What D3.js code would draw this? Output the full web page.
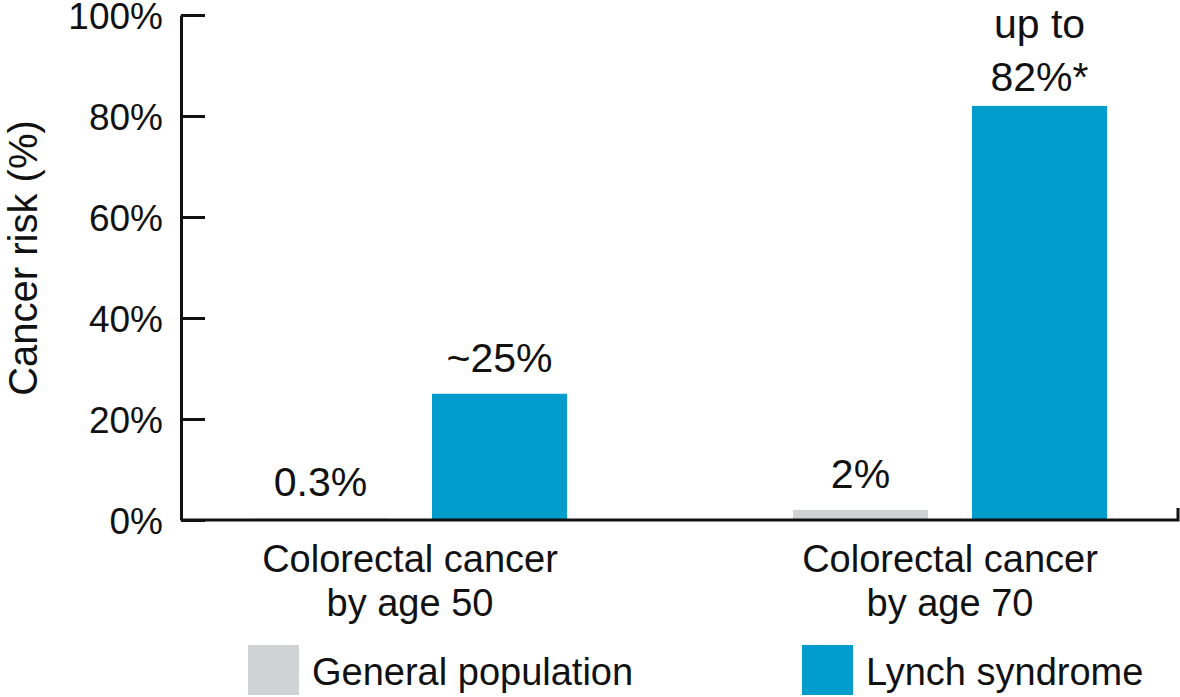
<!DOCTYPE html>
<html>
<head>
<meta charset="utf-8">
<script src="https://cdn.jsdelivr.net/npm/d3@7"></script>
<style>
  body { margin: 0; background: #fff; }
  text { font-family: "Liberation Sans", Arial, Helvetica, sans-serif; fill: #111; }
</style>
</head>
<body>
<script>
var categories = [["Colorectal cancer", "by age 50"], ["Colorectal cancer", "by age 70"]];
var series = ["General population", "Lynch syndrome"];
var generalValues = [0.3, 2];
var lynchValues = [25, 82];
var valueLabels = [[["0.3%"], ["~25%"]], [["2%"], ["up to", "82%*"]]];
var yTicks = [0, 20, 40, 60, 80, 100];
var colors = ["#d0d2d4", "#009dcc"];

function init() {
    var w = 1180;
    var h = 697;

    var svg = d3.select("body").append("svg").attr("width", w).attr("height", h);

    var y = d3.scaleLinear().domain([0, 100]).range([520, 15]);

    var x0 = d3.scaleBand()
        .domain(d3.range(categories.length))
        .range([140, 1220])
        .paddingInner(0.4185)
        .paddingOuter(0.20925);

    var x1 = d3.scaleBand()
        .domain(series)
        .range([0, x0.bandwidth()])
        .paddingInner(0.2458)
        .paddingOuter(0);

    var color = d3.scaleOrdinal().domain(series).range(colors);

    var rows = categories.map(function (c, i) {
        return { i: i, vals: [generalValues[i], lynchValues[i]] };
    });

    function cells(d) {
        return series.map(function (s, k) { return { s: s, v: d.vals[k], lab: valueLabels[d.i][k] }; });
    }

    // bars
    var groups = svg.selectAll("g.grp")
        .data(rows)
        .enter()
        .append("g")
        .attr("class", "grp")
        .attr("transform", function (d) { return "translate(" + x0(d.i) + ",0)"; });

    groups.selectAll("rect")
        .data(cells)
        .enter()
        .append("rect")
        .attr("x", function (d) { return x1(d.s); })
        .attr("y", function (d) { return y(d.v); })
        .attr("width", x1.bandwidth())
        .attr("height", function (d) { return y(0) - y(d.v); })
        .attr("fill", function (d) { return color(d.s); });

    // value labels (multi-line one sits a bit closer to its bar)
    groups.selectAll("text.val")
        .data(cells)
        .enter()
        .append("text")
        .attr("class", "val")
        .attr("text-anchor", "middle")
        .style("font-size", "41px")
        .each(function (d) {
            var t = d3.select(this);
            var n = d.lab.length;
            var off = n > 1 ? 15 : 22;
            d.lab.forEach(function (line, j) {
                t.append("tspan")
                    .attr("x", x1(d.s) + x1.bandwidth() / 2)
                    .attr("y", y(d.v) - off - (n - 1 - j) * 53)
                    .text(line);
            });
        });

    // y axis
    var yAxis = d3.axisLeft(y)
        .tickValues(yTicks)
        .tickFormat(function (d) { return d + "%"; })
        .tickSizeInner(-24)
        .tickSizeOuter(0)
        .tickPadding(18);

    var yg = svg.append("g")
        .attr("transform", "translate(181,0)")
        .call(yAxis);
    yg.select(".domain").attr("stroke", "#111").attr("stroke-width", 3);
    yg.selectAll(".tick line").attr("stroke", "#111").attr("stroke-width", 3);
    yg.selectAll(".tick text")
        .attr("fill", "#111")
        .style("font-size", "37px")
        .style("font-family", "'Liberation Sans', Arial, sans-serif")
        .attr("dy", "0.36em");

    // x axis baseline with end tick
    svg.append("path")
        .attr("d", "M181," + y(0) + "H1178V" + (y(0) - 12))
        .attr("fill", "none")
        .attr("stroke", "#111")
        .attr("stroke-width", 3);

    // category labels
    svg.selectAll("text.cat")
        .data(rows)
        .enter()
        .append("text")
        .attr("class", "cat")
        .attr("text-anchor", "middle")
        .style("font-size", "38px")
        .each(function (d) {
            var t = d3.select(this);
            categories[d.i].forEach(function (line, j) {
                t.append("tspan")
                    .attr("x", x0(d.i) + x0.bandwidth() / 2)
                    .attr("y", 572 + j * 44)
                    .text(line);
            });
        });

    // y title
    svg.append("text")
        .attr("transform", "translate(37,258) rotate(-90)")
        .attr("text-anchor", "middle")
        .style("font-size", "40px")
        .text("Cancer risk (%)");

    // legend
    var legendX = [248, 802];
    var legend = svg.selectAll("g.leg")
        .data(series)
        .enter()
        .append("g")
        .attr("class", "leg")
        .attr("transform", function (d, i) { return "translate(" + legendX[i] + ",645)"; });

    legend.append("rect")
        .attr("width", 51)
        .attr("height", 50)
        .attr("fill", function (d) { return color(d); });

    legend.append("text")
        .attr("x", 64)
        .attr("y", 40)
        .style("font-size", "38px")
        .text(function (d) { return d; });
}

window.onload = init;
</script>
</body>
</html>
